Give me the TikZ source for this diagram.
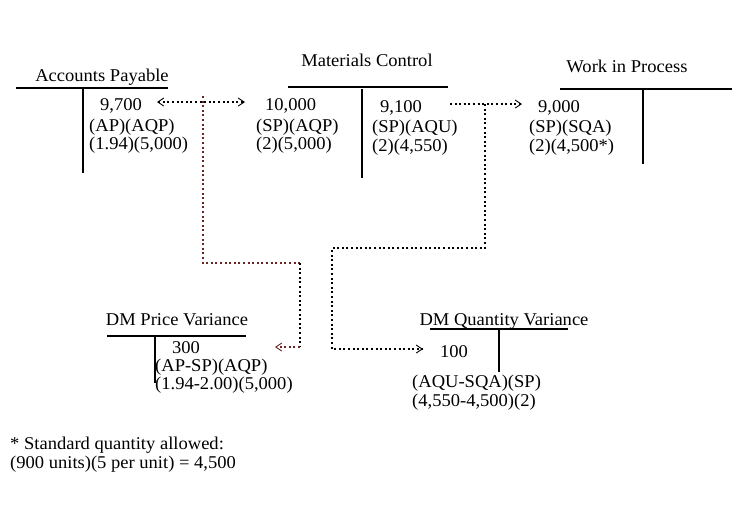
\documentclass[tikz,border=0pt]{standalone}
\usepackage{fontspec}
\setmainfont{Liberation Serif}[FakeStretch=1.03]
\usetikzlibrary{arrows.meta}
\definecolor{brownline}{HTML}{6B2424}
\begin{document}
\begin{tikzpicture}[x=1pt,y=-1pt,
  lbl/.style={anchor=base west,inner sep=0pt,font=\fontsize{18}{20}\selectfont},
  ttl/.style={anchor=base,inner sep=0pt,font=\fontsize{18}{20}\selectfont},
  tline/.style={line width=2pt},
  dotline/.style={line width=2pt,dash pattern=on 2pt off 2.6pt},
  barb/.tip={Straight Barb[length=6pt,width=8pt,line width=0.9pt]},
  arrowfwd/.style={-barb},
  arrowboth/.style={barb-barb}
]
\useasboundingbox (0,0) rectangle (745,515);

% Accounts Payable
\node[ttl] (apT) at (102,81) {Accounts Payable};
\draw[tline] (16,88) -- (168,88);
\draw[tline] (83,89) -- (83,173);
\node[lbl] (ap1) at (100,110) {9,700};
\node[lbl] (ap2) at (89,131) {(AP)(AQP)};
\node[lbl] (ap3) at (89,149) {(1.94)(5,000)};

% Materials Control
\node[ttl] (mcT) at (367,66) {Materials Control};
\draw[tline] (288,87) -- (448,87);
\draw[tline] (362,89) -- (362,178);
\node[lbl] (mc1) at (265,110) {10,000};
\node[lbl] (mc2) at (256,131) {(SP)(AQP)};
\node[lbl] (mc3) at (256,149) {(2)(5,000)};
\node[lbl] (mc4) at (380,112) {9,100};
\node[lbl] (mc5) at (372,132) {(SP)(AQU)};
\node[lbl] (mc6) at (372,151) {(2)(4,550)};

% Work in Process
\node[ttl] (wpT) at (627,72) {Work in Process};
\draw[tline] (560,89) -- (732,89);
\draw[tline] (643,90) -- (643,164);
\node[lbl] (wp1) at (538,112) {9,000};
\node[lbl] (wp2) at (529,132) {(SP)(SQA)};
\node[lbl] (wp3) at (529,151) {(2)(4,500*)};

% DM Price Variance
\node[ttl] (pvT) at (177,325) {DM Price Variance};
\draw[tline] (107,336) -- (246,336);
\draw[tline] (155,336) -- (155,383);
\node[lbl] (pv1) at (172,353) {300};
\node[lbl] (pv2) at (155,371) {(AP-SP)(AQP)};
\node[lbl] (pv3) at (155,389) {(1.94-2.00)(5,000)};

% DM Quantity Variance
\node[ttl] (qvT) at (504,325) {DM Quantity Variance};
\draw[tline] (430,329) -- (568,329);
\draw[tline] (499,329) -- (499,372);
\node[lbl] (qv1) at (440,357) {100};
\node[lbl] (qv2) at (412,387) {(AQU-SQA)(SP)};
\node[lbl] (qv3) at (412,406) {(4,550-4,500)(2)};

% Footnote
\node[lbl] (fn1) at (10,449) {* Standard quantity allowed:};
\node[lbl] (fn2) at (10,468) {(900 units)(5 per unit) = 4,500};

% connector coordinates
\coordinate (a1) at (157,102);
\coordinate (a2) at (245,102);
\coordinate (b1) at (203,96);
\coordinate (b2) at (203,263);
\coordinate (b3) at (300,263);
\coordinate (b4) at (300,347);
\coordinate (b5) at (275,347);
\coordinate (m1) at (450,104);
\coordinate (m2) at (522,104);
\coordinate (j1) at (485,104);
\coordinate (j2) at (485,248);
\coordinate (j3) at (332,248);
\coordinate (j4) at (332,349);
\coordinate (j5) at (423,349);

% connectors
\draw[dotline,arrowboth] (a1) -- (a2);
\draw[dotline,brownline] (b1) -- (b2) -- (b3);
\draw[dotline] (b3) -- (b4);
\draw[dotline,brownline,arrowfwd] (b4) -- (b5);
\draw[dotline,arrowfwd] (m1) -- (m2);
\draw[dotline,arrowfwd] (j1) -- (j2) -- (j3) -- (j4) -- (j5);
\end{tikzpicture}
\end{document}
